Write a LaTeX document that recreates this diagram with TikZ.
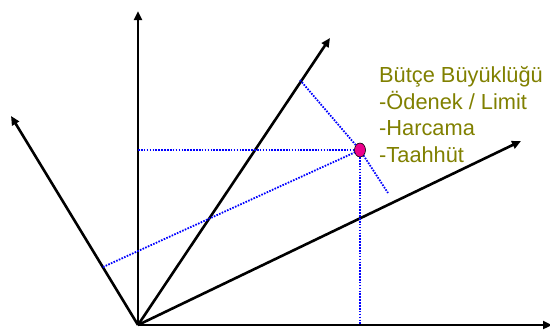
\documentclass[tikz,border=0pt]{standalone}
\usepackage{fontspec}
\setmainfont{Liberation Sans}
\usetikzlibrary{arrows.meta,shapes.geometric}
\definecolor{etiket}{RGB}{128,128,0}
\begin{document}
\begin{tikzpicture}[x=1pt, y=-1pt, >={Triangle[length=9pt,width=8pt]},
	eksen/.style={->, line width=2.6pt},
	izdusum/.style={blue, line width=1.8pt, dash pattern=on 1.6pt off 1.3pt},
	nokta/.style={ellipse, draw=black, fill=magenta, line width=0.6pt, minimum width=11pt, minimum height=14pt, inner sep=0pt}]
	\useasboundingbox (0,0) rectangle (550,330);
	% === eksenler ===
	\coordinate (O) at (138,325);
	\coordinate (e1) at (552,325);
	\coordinate (e2) at (521,141);
	\coordinate (e3) at (330,38);
	\coordinate (e4) at (138,11);
	\coordinate (e5) at (11,116);
	\foreach \e in {e1,e2,e3,e4,e5}
		\draw[eksen] (O) -- (\e);
	
	% === izdusumler ===
	\coordinate (p) at (360,150);
	\coordinate (yy) at (138,150);
	\coordinate (xx) at (360,325);
	\coordinate (sol) at (103,267);
	\coordinate (ust) at (300,80);
	\coordinate (alt) at (388,193);
	\draw[izdusum] (yy) -- (p) -- (xx);
	\draw[izdusum] (sol) -- (p);
	\draw[izdusum] (ust) -- (p) -- (alt);
	\node[nokta] (P) at (p) {};
	
	\node[anchor=base west, align=left, inner sep=0pt, text=etiket, font=\fontsize{21.8}{26.5}\selectfont] (baslik) at (379,162)
		{Bütçe Büyüklüğü\\-Ödenek / Limit\\-Harcama\\-Taahhüt};
\end{tikzpicture}
\end{document}
